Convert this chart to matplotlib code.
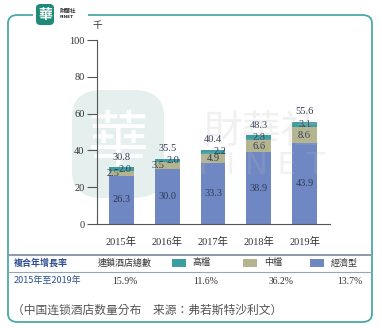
import matplotlib.pyplot as plt
import numpy as np
from matplotlib.patches import FancyBboxPatch, Rectangle

years = ["2015年", "2016年", "2017年", "2018年", "2019年"]
economy = [26.3, 30.0, 33.3, 38.9, 43.9]
midscale = [2.5, 3.5, 4.9, 6.6, 8.6]
upscale = [2.0, 2.0, 2.2, 2.8, 3.1]
totals = [30.8, 35.5, 40.4, 48.3, 55.6]

cagr_labels = ["連鎖酒店總數", "高檔", "中檔", "經濟型"]
cagr_values = ["15.9%", "11.6%", "36.2%", "13.7%"]

c_eco = "#6f87c3"
c_mid = "#b4b58f"
c_up = "#3d9e9f"
frame = "#4aa9a8"
navy = "#2f3a55"
blue_txt = "#2d4f8f"

serif = ["Liberation Serif", "Noto Sans CJK TC"]
cjk = ["Noto Sans CJK TC", "DejaVu Sans"]

W, H = 382, 328
fig = plt.figure(figsize=(W / 100, H / 100), dpi=100)


def fx(x):
    return x / W


def fy(y):
    return 1 - y / H


# frame with gap for the logo
fig.patches.append(FancyBboxPatch((fx(8), fy(322)), fx(364), (322 - 15) / H,
                                  boxstyle="round,pad=0,rounding_size=0.025",
                                  transform=fig.transFigure, fill=False,
                                  edgecolor=frame, linewidth=1.3, zorder=1))
fig.patches.append(Rectangle((fx(33), fy(20)), fx(55), 10 / H, transform=fig.transFigure,
                             facecolor="white", edgecolor="none", zorder=2))
# logo
fig.patches.append(FancyBboxPatch((fx(36), fy(25)), fx(18), 21 / H,
                                  boxstyle="round,pad=0,rounding_size=0.012",
                                  transform=fig.transFigure, facecolor="#1e8a78",
                                  edgecolor="none", zorder=3))
fig.text(fx(45), fy(14.5), "華", family=cjk, fontsize=10, color="white",
         ha="center", va="center", weight="bold", zorder=4)
fig.text(fx(60), fy(11), "財華社", family=cjk, fontsize=4, color="#333333",
         ha="left", va="center", weight="bold")
fig.text(fx(60), fy(17), "FINET", family=["DejaVu Sans"], fontsize=3.2, color="#333333",
         ha="left", va="center", weight="bold")

# watermark (behind the chart)
fig.patches.append(FancyBboxPatch((fx(72), fy(198)), fx(92), 108 / H,
                                  boxstyle="round,pad=0,rounding_size=0.08",
                                  transform=fig.transFigure, facecolor="#e4efee",
                                  edgecolor="none", zorder=-2))
fig.text(fx(118), fy(144), "華", family=cjk, fontsize=44, color="white",
         ha="center", va="center", zorder=-1)

ax = fig.add_axes([fx(97), fy(224), fx(330) - fx(97), (224 - 40) / H])
ax.set_facecolor("none")
x = np.arange(len(years))
bw = 25 / 46
bottom_mid = np.array(economy)
bottom_up = bottom_mid + np.array(midscale)
ax.bar(x, economy, bw, color=c_eco, zorder=2)
ax.bar(x, midscale, bw, bottom=bottom_mid, color=c_mid, zorder=2)
ax.bar(x, upscale, bw, bottom=bottom_up, color=c_up, zorder=2)

# label nudges (in bar units) for the thin segments
nudge_mid = [-0.18, -0.2, 0, 0, 0]
nudge_up = [0.08, 0.13, 0.16, 0, 0]
lab = dict(family=serif, fontsize=7.5, color=navy, ha="center", va="center", zorder=5)
for i in range(len(years)):
    ax.text(x[i], economy[i] / 2, f"{economy[i]:.1f}", **lab)
    ax.text(x[i] + nudge_mid[i], bottom_mid[i] + midscale[i] / 2, f"{midscale[i]:.1f}", **lab)
    ax.text(x[i] + nudge_up[i], bottom_up[i] + upscale[i] / 2, f"{upscale[i]:.1f}", **lab)
    ax.text(x[i], totals[i] + 5.5, f"{totals[i]:.1f}", **lab)

ax.set_xlim(-25 / 46 + 0.01, (330 - 120.5) / 46)
ax.set_ylim(0, 100)
ax.set_yticks([0, 20, 40, 60, 80, 100])
ax.set_xticks(x)
ax.set_xticklabels(years)
for s in ["top", "right"]:
    ax.spines[s].set_visible(False)
for s in ["left", "bottom"]:
    ax.spines[s].set_color("#555555")
    ax.spines[s].set_linewidth(0.8)
ax.tick_params(axis="y", direction="out", length=7, width=0.8, color="#555555", pad=2)
ax.tick_params(axis="x", length=0, pad=9)
for t in ax.get_yticklabels() + ax.get_xticklabels():
    t.set_family(serif)
    t.set_fontsize(7.5)
    t.set_color("#333333")
fig.text(fx(97), fy(25), "千", family=cjk, fontsize=7, color="#333333", ha="center", va="center")

# faint watermark text on top
fig.text(fx(262), fy(132), "財華社", family=cjk, fontsize=28, color="#bdbdbd", alpha=0.22,
         ha="center", va="center", zorder=10)
fig.text(fx(262), fy(166), "F I N E T", family=["DejaVu Sans"], fontsize=22, color="#bdbdbd",
         alpha=0.2, ha="center", va="center", zorder=10)

# CAGR table
fig.add_artist(plt.Line2D([fx(8), fx(372)], [fy(255), fy(255)], color="#8c98a8", lw=1.4))
fig.add_artist(plt.Line2D([fx(8), fx(372)], [fy(272), fy(272)], color="#9aa5b3", lw=0.8))
fig.text(fx(14), fy(263), "複合年增長率", family=cjk, fontsize=6.5, color=blue_txt,
         ha="left", va="center", weight="bold")
fig.text(fx(14), fy(281), "2015年至2019年", family=cjk, fontsize=6.5, color=blue_txt,
         ha="left", va="center")

fig.text(fx(125), fy(263), cagr_labels[0], family=cjk, fontsize=6.5, color="#333333",
         ha="center", va="center")
legend_x = [172, 243, 310]
legend_c = [c_up, c_mid, c_eco]
for i in range(3):
    fig.patches.append(Rectangle((fx(legend_x[i]), fy(267)), fx(14), 8 / H,
                                 transform=fig.transFigure, facecolor=legend_c[i],
                                 edgecolor="none"))
    fig.text(fx(legend_x[i] + 21), fy(263), cagr_labels[i + 1], family=cjk, fontsize=6.5,
             color="#333333", ha="left", va="center")
val_x = [125, 206, 281, 350]
for i in range(4):
    fig.text(fx(val_x[i]), fy(281), cagr_values[i], family=serif, fontsize=7,
             color="#333333", ha="center", va="center")

fig.text(fx(12), fy(310), "（中国连锁酒店数量分布　来源：弗若斯特沙利文）", family=cjk,
         fontsize=8.5, color="#555555", ha="left", va="center")

fig.savefig("out.png", dpi=100)
